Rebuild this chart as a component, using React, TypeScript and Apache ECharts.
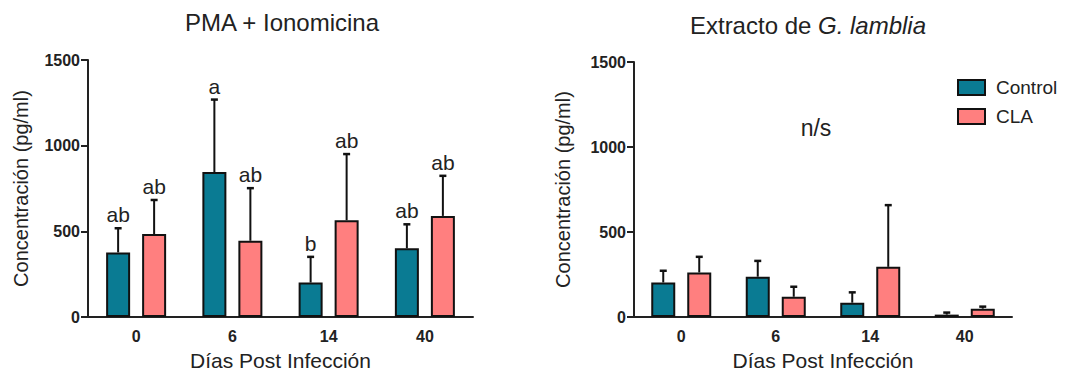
import React, { useEffect, useRef } from "react";
import * as echarts from "echarts";

const categories = ["0", "6", "14", "40"];
const seriesNames = ["Control", "CLA"];
const yTicks = [0, 500, 1000, 1500];

// PMA + Ionomicina
const pmaControl = [377, 846, 201, 401];
const pmaControlSd = [141, 423, 150, 140];
const pmaCla = [484, 445, 565, 590];
const pmaClaSd = [199, 307, 386, 234];
const pmaControlLetters = ["ab", "a", "b", "ab"];
const pmaClaLetters = ["ab", "ab", "ab", "ab"];

// Extracto de G. lamblia
const giaControl = [203, 237, 84, 14];
const giaControlSd = [69, 93, 61, 12];
const giaCla = [262, 119, 295, 49];
const giaClaSd = [92, 59, 363, 12];

const COLORS = ["#0A7B93", "#FF7F7F"];
const FONT = "Liberation Sans, Arial, sans-serif";
const TXT = "#222";
const BAR_W = 24;
const BAR_GAP = 0.5;

export default function App() {
  const ref = useRef<HTMLDivElement>(null);

  useEffect(() => {
    const chart = echarts.init(ref.current!, null, { renderer: "svg" });

    const errSeries = (
      gridIdx: number,
      name: string,
      sign: number,
      means: number[],
      sds: number[],
      letters: string[] | null
    ) => ({
      type: "custom",
      name,
      xAxisIndex: gridIdx,
      yAxisIndex: gridIdx,
      z: 5,
      silent: true,
      data: means.map((m, i) => [i, m, m + sds[i]]),
      renderItem: (params: any, api: any) => {
        const idx = api.value(0);
        const base = api.coord([idx, api.value(1)]);
        const top = api.coord([idx, api.value(2)]);
        const off = (sign * BAR_W * (1 + BAR_GAP)) / 2;
        const x = base[0] + off;
        const letter = letters ? letters[idx] : "";
        const children: any[] = [
          {
            type: "line",
            shape: { x1: x, y1: base[1], x2: x, y2: top[1] },
            style: { stroke: "#111", lineWidth: 2 },
          },
          {
            type: "line",
            shape: { x1: x - 3.5, y1: top[1], x2: x + 3.5, y2: top[1] },
            style: { stroke: "#111", lineWidth: 2.5 },
          },
        ];
        if (letter) {
          children.push({
            type: "text",
            x: x,
            y: top[1] - 3,
            style: {
              text: letter,
              fill: TXT,
              font: `21px ${FONT}`,
              textAlign: "center",
              textVerticalAlign: "bottom",
            },
          });
        }
        return { type: "group", children };
      },
    });

    const barSeries = (gridIdx: number, name: string, data: number[], color: string) => ({
      type: "bar",
      name,
      xAxisIndex: gridIdx,
      yAxisIndex: gridIdx,
      data,
      barWidth: BAR_W,
      barGap: `${BAR_GAP * 100}%`,
      itemStyle: { color, borderColor: "#111", borderWidth: 2 },
    });

    const xAxis = (gridIndex: number) => ({
      type: "category",
      gridIndex,
      data: categories,
      name: "Días Post Infección",
      nameLocation: "middle",
      nameGap: 33,
      nameTextStyle: { fontSize: 21, color: TXT, fontFamily: FONT },
      axisLine: { lineStyle: { color: "#222", width: 2 } },
      axisTick: { alignWithLabel: true, length: 5, lineStyle: { color: "#222", width: 2 } },
      axisLabel: { fontSize: 16, fontWeight: "bold", color: TXT, fontFamily: FONT, margin: 11 },
      splitLine: { show: false },
    });

    const yAxis = (gridIndex: number, nameGap: number) => ({
      type: "value",
      gridIndex,
      min: yTicks[0],
      max: yTicks[yTicks.length - 1],
      interval: yTicks[1] - yTicks[0],
      name: "Concentración (pg/ml)",
      nameLocation: "middle",
      nameGap,
      nameTextStyle: { fontSize: 20, color: TXT, fontFamily: FONT },
      axisLine: { show: true, lineStyle: { color: "#222", width: 2 } },
      axisTick: { show: true, length: 7, lineStyle: { color: "#222", width: 2 } },
      axisLabel: {
        fontSize: 16,
        fontWeight: "bold",
        color: TXT,
        fontFamily: FONT,
        margin: 8,
        formatter: (v: number) => String(v),
      },
      splitLine: { show: false },
    });

    chart.setOption({
      animation: false,
      backgroundColor: "#fff",
      textStyle: { fontFamily: FONT },
      title: [
        {
          text: "PMA + Ionomicina",
          left: 277,
          top: 5,
          textAlign: "center",
          textStyle: { fontSize: 24, fontWeight: "normal", color: TXT, fontFamily: FONT },
        },
        {
          text: "Extracto de {i|G. lamblia}",
          left: 803,
          top: 8,
          textAlign: "center",
          textStyle: {
            fontSize: 24,
            fontWeight: "normal",
            color: TXT,
            fontFamily: FONT,
            rich: { i: { fontSize: 24, fontStyle: "italic", color: TXT, fontFamily: FONT } },
          },
        },
      ],
      legend: {
        data: seriesNames,
        orient: "vertical",
        left: 952,
        top: 73,
        itemWidth: 27,
        itemHeight: 15,
        itemGap: 10,
        icon: "rect",
        textStyle: { fontSize: 19, color: TXT, fontFamily: FONT, padding: [0, 0, 0, 6] },
      },
      grid: [
        { left: 88, top: 60, width: 385, height: 257 },
        { left: 634, top: 62, width: 378, height: 255 },
      ],
      xAxis: [xAxis(0), xAxis(1)],
      yAxis: [yAxis(0, 57), yAxis(1, 61)],
      graphic: [
        {
          type: "text",
          x: 816,
          y: 128,
          style: {
            text: "n/s",
            fill: TXT,
            font: `23px ${FONT}`,
            textAlign: "center",
            textVerticalAlign: "middle",
          },
        },
      ],
      series: [
        barSeries(0, seriesNames[0], pmaControl, COLORS[0]),
        barSeries(0, seriesNames[1], pmaCla, COLORS[1]),
        barSeries(1, seriesNames[0], giaControl, COLORS[0]),
        barSeries(1, seriesNames[1], giaCla, COLORS[1]),
        errSeries(0, "errPmaControl", -1, pmaControl, pmaControlSd, pmaControlLetters),
        errSeries(0, "errPmaCla", 1, pmaCla, pmaClaSd, pmaClaLetters),
        errSeries(1, "errGiaControl", -1, giaControl, giaControlSd, null),
        errSeries(1, "errGiaCla", 1, giaCla, giaClaSd, null),
      ],
    });

    return () => chart.dispose();
  }, []);

  return (
    <div
      ref={ref}
      style={{ position: "absolute", left: 0, top: 0, width: 1066, height: 379 }}
    />
  );
}
